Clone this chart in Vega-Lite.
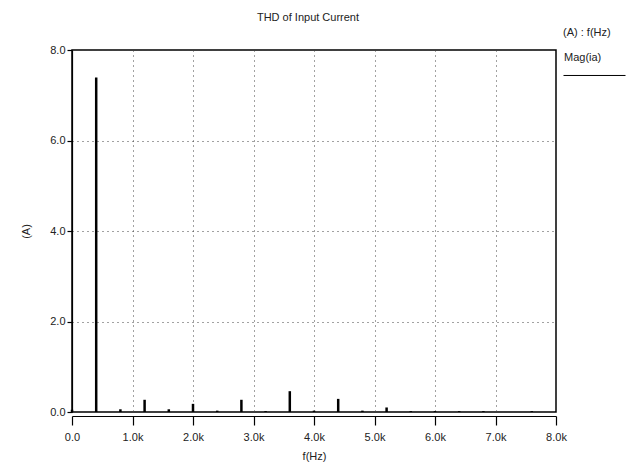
{
  "$schema": "https://vega.github.io/schema/vega-lite/v6.json",
  "width": 484,
  "height": 362,
  "autosize": {"type": "none"},
  "padding": {"left": 72, "top": 50, "right": 83, "bottom": 57},
  "background": "white",
  "title": {"text": "THD of Input Current", "fontSize": 11, "fontWeight": "normal", "font": "Liberation Sans", "color": "#222", "anchor": "middle", "offset": 4, "dx": -6},
  "data": {"values": [
    {"f": 0, "mag": 0.05},
    {"f": 400, "mag": 7.39},
    {"f": 800, "mag": 0.06},
    {"f": 1200, "mag": 0.27},
    {"f": 1600, "mag": 0.06},
    {"f": 2000, "mag": 0.18},
    {"f": 2400, "mag": 0.03},
    {"f": 2800, "mag": 0.27},
    {"f": 3200, "mag": 0.02},
    {"f": 3600, "mag": 0.46},
    {"f": 4000, "mag": 0.03},
    {"f": 4400, "mag": 0.29},
    {"f": 4800, "mag": 0.03},
    {"f": 5200, "mag": 0.1},
    {"f": 5600, "mag": 0.02},
    {"f": 6000, "mag": 0.02},
    {"f": 6400, "mag": 0.02},
    {"f": 6800, "mag": 0.02},
    {"f": 7600, "mag": 0.02}
  ]},
  "mark": {"type": "rule", "strokeWidth": 2.5},
  "encoding": {
    "x": {"field": "f", "type": "quantitative", "title": "f(Hz)",
      "scale": {"domain": [0, 8000], "nice": false, "zero": true},
      "axis": {"values": [0, 1000, 2000, 3000, 4000, 5000, 6000, 7000, 8000],
        "labelExpr": "datum.value == 0 ? '0.0' : format(datum.value / 1000, '.1f') + 'k'",
        "labelFlush": false, "labelOverlap": false,
        "offset": 4, "tickSize": 9, "labelPadding": 6, "titlePadding": 8}},
    "y": {"field": "mag", "type": "quantitative", "title": "(A)",
      "scale": {"domain": [0, 8], "nice": false},
      "axis": {"values": [0, 2, 4, 6, 8], "format": ".1f", "tickSize": 5, "labelPadding": 2, "titlePadding": 18, "labelFlush": false}},
    "y2": {"datum": 0},
    "color": {"datum": "Mag(ia)", "type": "nominal",
      "scale": {"range": ["#000000"]},
      "legend": {"title": "(A) : f(Hz)", "orient": "none", "legendX": 491, "legendY": -23,
        "symbolType": "M -1 0.58 L 1 0.58", "symbolSize": 3844, "symbolStrokeWidth": 1,
        "labelOffset": -62, "titlePadding": -12}}
  },
  "config": {
    "font": "Liberation Sans",
    "view": {"stroke": "#000", "strokeWidth": 1.5},
    "axis": {
      "domainColor": "#000", "tickColor": "#000", "domainWidth": 1.2, "tickWidth": 1.2,
      "labelFont": "Liberation Sans", "labelFontSize": 11, "labelColor": "#222",
      "titleFont": "Liberation Sans", "titleFontSize": 11, "titleFontWeight": "normal", "titleColor": "#222",
      "grid": true, "gridColor": "#444", "gridDash": [1, 4], "gridWidth": 1
    },
    "legend": {
      "titleFont": "Liberation Sans", "titleFontSize": 11, "titleFontWeight": "normal", "titleColor": "#222",
      "labelFont": "Liberation Sans", "labelFontSize": 11, "labelColor": "#222"
    }
  }
}
